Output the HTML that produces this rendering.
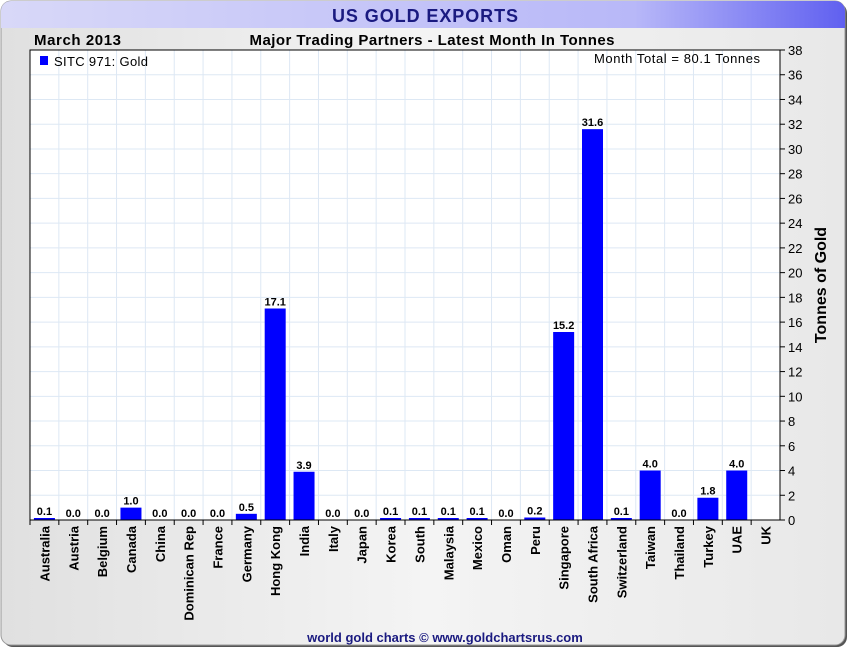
<!DOCTYPE html>
<html><head><meta charset="utf-8"><style>
body{margin:0;width:850px;height:650px;overflow:hidden;background:#fff;font-family:"Liberation Sans",Arial,sans-serif}
</style></head><body>
<svg width="850" height="650" xmlns="http://www.w3.org/2000/svg">
<defs>
<linearGradient id="tb" x1="0" x2="1" y1="0" y2="0"><stop offset="0" stop-color="#d8d8f8"/><stop offset="0.75" stop-color="#b8b8f8"/><stop offset="1" stop-color="#6060f0"/></linearGradient>
<linearGradient id="bg" x1="0" x2="1" y1="0" y2="0"><stop offset="0" stop-color="#e0e0e0"/><stop offset="0.5" stop-color="#f4f4f4"/><stop offset="1" stop-color="#e8e8e8"/></linearGradient>
</defs>
<rect x="3" y="3" width="844" height="644" rx="10" fill="#555"/>
<rect x="1" y="1" width="844" height="644" rx="10" fill="url(#bg)" stroke="#999"/>
<path d="M11 1 H835 A10 10 0 0 1 845 11 V28 H1 V11 A10 10 0 0 1 11 1Z" fill="url(#tb)"/>
<text x="425" y="22" text-anchor="middle" font-size="18" font-weight="bold" fill="#1a1a80" textLength="186">US GOLD EXPORTS</text>
<text x="34" y="45" font-size="15" font-weight="bold" fill="#000" textLength="87">March 2013</text>
<text x="432" y="45" text-anchor="middle" font-size="15" font-weight="bold" fill="#000" textLength="365">Major Trading Partners - Latest Month In Tonnes</text>
<rect x="30" y="50" width="750" height="470" fill="#fff"/>
<g id="grid"></g>
<g id="bars"></g>
<g id="axes"></g>
<rect x="30" y="50" width="750" height="470" fill="none" stroke="#000"/>
<rect x="40" y="56" width="8" height="9" fill="#0000ff"/>
<text x="54" y="66" font-size="13" fill="#000" textLength="94">SITC 971: Gold</text>
<text x="760" y="63" text-anchor="end" font-size="13" fill="#000" textLength="166">Month Total = 80.1 Tonnes</text>
<text transform="translate(826,285) rotate(-90)" text-anchor="middle" font-size="16" font-weight="bold">Tonnes of Gold</text>
<text x="445" y="642" text-anchor="middle" font-size="13" font-weight="bold" fill="#1a1a80">world gold charts © www.goldchartsrus.com</text>
</svg>
<script>
const categories=["Australia","Austria","Belgium","Canada","China","Dominican Rep","France","Germany","Hong Kong","India","Italy","Japan","Korea","South","Malaysia","Mexico","Oman","Peru","Singapore","South Africa","Switzerland","Taiwan","Thailand","Turkey","UAE","UK"];
const values=[0.1,0.0,0.0,1.0,0.0,0.0,0.0,0.5,17.1,3.9,0.0,0.0,0.1,0.1,0.1,0.1,0.0,0.2,15.2,31.6,0.1,4.0,0.0,1.8,4.0,null];
const yTicks=[0,2,4,6,8,10,12,14,16,18,20,22,24,26,28,30,32,34,36,38];
const NS="http://www.w3.org/2000/svg";
const L=30,R=780,T=50,B=520,YMAX=38;
const bw=(R-L)/categories.length;
const y=v=>B-(v/YMAX)*(B-T);
const xc=i=>L+bw*(i+0.5);
function mk(tag,attrs,parent){const e=document.createElementNS(NS,tag);for(const k in attrs)e.setAttribute(k,attrs[k]);parent.appendChild(e);return e;}
const grid=document.getElementById('grid'),bars=document.getElementById('bars'),axes=document.getElementById('axes');
yTicks.forEach(t=>{
 const g=mk('line',{x1:L,x2:R,y1:y(t),y2:y(t),stroke:'#dde8f4'},grid);
 
 
 const tk=mk('line',{x1:R,x2:R+5,y1:y(t),y2:y(t),stroke:'#000'},axes);
 
 
 const tl=mk('text',{x:R+8,y:y(t)+5,'font-size':13,fill:'#000'},axes);
 tl.textContent=t;
 
 
});
categories.forEach((c,i)=>{
 const xb=L+bw*(i+1);
 const g=mk('line',{x1:xb,x2:xb,y1:T,y2:B,stroke:'#dde8f4'},grid);
 
 
 const tk=mk('line',{x1:L+bw*i,x2:L+bw*i,y1:B,y2:B+5,stroke:'#000'},axes);
 
 
 const lb=mk('text',{transform:`translate(${xc(i)+5},${B+6}) rotate(-90)`,'text-anchor':'end','font-size':13,'font-weight':'bold',fill:'#000'},axes);
 lb.textContent=c;
 
 
 const v=values[i];
 if(v===null)return;
 const h=Math.max(B-y(v),v>0?2:0);
 const r=mk('rect',{x:xc(i)-10.5,y:B-h,width:21,height:h,fill:'#0000ff'},bars);
 
 
 const vl=mk('text',{x:xc(i),y:B-h-3,'text-anchor':'middle','font-size':11,'font-weight':'bold',fill:'#000'},bars);
 vl.textContent=v.toFixed(1);
 
 
});
const ax=mk('line',{x1:L,x2:R,y1:B,y2:B,stroke:'#000'},axes);


</script>
</body></html>
